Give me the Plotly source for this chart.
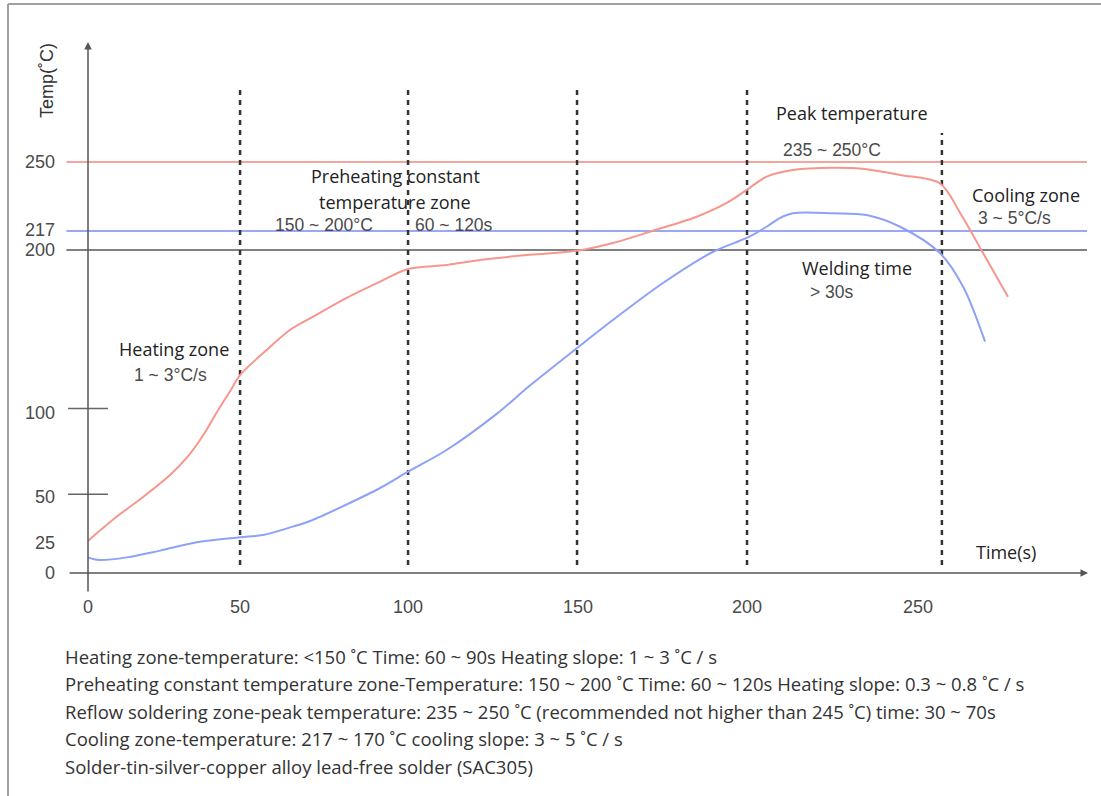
import plotly.graph_objects as go

# ---- data (time axis / temperature axis in the diagram's drawn scale) ----
red_t = [0, 3.6, 8.6, 16.7, 24.7, 29.7, 34.6, 38.8, 42.8, 45.8, 53.8, 60.8, 67.8, 77.9, 88.0,
         96.4, 108.0, 118.1, 133.1, 147.2, 158.1, 170.2, 183.3, 192.4, 198.4, 204.4, 212.3,
         224.4, 234.5, 244.6, 256.6, 262.7, 269.6, 277.1]
red_temp = [19.5, 25.8, 34.2, 46.4, 59.6, 70.0, 83.5, 97.8, 110.6, 120.4, 135.6, 147.8, 155.9,
            167.3, 177.2, 184.9, 187.3, 190.4, 193.6, 196.0, 200.7, 208.2, 216.7, 225.1, 233.0,
            241.1, 245.1, 246.5, 245.6, 242.1, 237.0, 219.0, 194.6, 168.1]

blue_t = [0, 1.5, 3.6, 11.7, 21.7, 33.7, 45.8, 52.7, 61.7, 66.9, 77.4, 88.0, 96.4, 108.0, 123.1,
          133.1, 147.2, 158.1, 173.2, 188.3, 198.4, 204.4, 208.4, 212.3, 224.4, 234.5, 244.6,
          256.6, 263.6, 270.2]
blue_temp = [9.5, 8.5, 7.9, 9.5, 13.6, 19.0, 21.7, 23.1, 28.2, 31.6, 41.2, 51.7, 61.6, 74.8, 96.8,
             114.0, 136.7, 153.9, 176.4, 195.4, 203.8, 210.6, 215.9, 218.8, 218.8, 217.8, 210.6,
             194.6, 174.1, 140.7]

# reference temperature lines: 250, 217, 200
ref_levels = [250.0, 208.0, 196.5]
ref_colors = ["#f6a59c", "#98a8f6", "#808080"]

# zone boundaries (dashed) and their tops
zone_t = [45.8, 96.4, 147.3, 198.5, 257.2]
zone_top = [293.8, 293.8, 293.8, 293.8, 267.6]
zone_bottom = 4.9

# axis tick labels
x_tick_pos = [0, 45.8, 96.4, 147.6, 198.5, 250]
x_tick_text = ["0", "50", "100", "150", "200", "250"]
y_tick_pos = [0.2, 18.2, 46.4, 97.3, 196.7, 208.8, 250]
y_tick_text = ["0", "25", "50", "100", "200", "217", "250"]
y_tick_marks = [47.9, 100.1]

zone_labels = [
    ("Heating zone", 25.8, 136.3, "main"),
    ("1 ~ 3°C/s", 24.7, 120.4, "num"),
    ("Preheating constant", 92.5, 241.5, "main"),
    ("temperature zone", 92.5, 225.9, "main"),
    ("150 ~ 200°C", 71.0, 211.7, "num"),
    ("60 ~ 120s", 110.3, 211.7, "num"),
    ("Peak temperature", 230.0, 279.8, "main"),
    ("235 ~ 250°C", 224.0, 257.3, "num"),
    ("Cooling zone", 282.5, 229.9, "main"),
    ("3 ~ 5°C/s", 279.1, 215.9, "num"),
    ("Welding time", 231.5, 185.5, "main"),
    ("> 30s", 224.0, 171.1, "num"),
]

notes = [
    "Heating zone-temperature: <150 ˚C Time: 60 ~ 90s Heating slope: 1 ~ 3 ˚C / s",
    "Preheating constant temperature zone-Temperature: 150 ~ 200 ˚C Time: 60 ~ 120s Heating slope: 0.3 ~ 0.8 ˚C / s",
    "Reflow soldering zone-peak temperature: 235 ~ 250 ˚C (recommended not higher than 245 ˚C) time: 30 ~ 70s",
    "Cooling zone-temperature: 217 ~ 170 ˚C cooling slope: 3 ~ 5 ˚C / s",
    "Solder-tin-silver-copper alloy lead-free solder (SAC305)",
]

# ---- layout geometry ----
W, H = 1101, 796
ML, MR, MT, MB = 40, 6, 30, 176
PX0, PX1, PY0, PY1 = ML, W - MR, MT, H - MB
XR = [-14.458, 303.313]
YR = [-28.589, 330.292]

def px(p):
    return (p - PX0) / (PX1 - PX0)

def py(p):
    return (PY1 - p) / (PY1 - PY0)

MAIN_FONT = dict(family="Open Sans", size=18, color="#222222")
NUM_FONT = dict(family="Liberation Sans", size=17.5, color="#4a4a4a")
TICK_FONT = dict(family="Liberation Sans", size=18, color="#4a4a4a")

fig = go.Figure()

# reference horizontal lines
for lvl, col in zip(ref_levels, ref_colors):
    fig.add_trace(go.Scatter(x=[-6.5, 300.9], y=[lvl, lvl], mode="lines",
                             line=dict(color=col, width=2), hoverinfo="skip"))

# dashed zone boundaries
for t, top in zip(zone_t, zone_top):
    fig.add_trace(go.Scatter(x=[t, t], y=[zone_bottom, top], mode="lines",
                             line=dict(color="#333333", width=2.5, dash="5px,5px"),
                             hoverinfo="skip"))

# y tick marks
for m in y_tick_marks:
    fig.add_trace(go.Scatter(x=[-6.0, 6.0], y=[m, m], mode="lines",
                             line=dict(color="#666666", width=1.5), hoverinfo="skip"))

# profiles
fig.add_trace(go.Scatter(x=red_t, y=red_temp, mode="lines",
                         line=dict(color="#f7968c", width=2, shape="spline", smoothing=0.9),
                         hoverinfo="skip"))
fig.add_trace(go.Scatter(x=blue_t, y=blue_temp, mode="lines",
                         line=dict(color="#8da2f7", width=2, shape="spline", smoothing=0.9),
                         hoverinfo="skip"))

ann = []
# axes with arrows
ann.append(dict(x=0, y=323, ax=0, ay=-12.2, xref="x", yref="y", axref="x", ayref="y",
                text="", showarrow=True, arrowhead=2, arrowsize=1, arrowwidth=1.5,
                arrowcolor="#555555"))
ann.append(dict(x=301.2, y=0, ax=-6.0, ay=0, xref="x", yref="y", axref="x", ayref="y",
                text="", showarrow=True, arrowhead=2, arrowsize=1, arrowwidth=1.5,
                arrowcolor="#555555"))

for v, t in zip(x_tick_pos, x_tick_text):
    ann.append(dict(x=v, y=-20.7, xref="x", yref="y", text=t, showarrow=False,
                    font=TICK_FONT, xanchor="center", yanchor="middle"))
for v, t in zip(y_tick_pos, y_tick_text):
    ann.append(dict(x=-9.34, y=v, xref="x", yref="y", text=t, showarrow=False,
                    font=TICK_FONT, xanchor="right", yanchor="middle"))

for text, x, y, kind in zone_labels:
    ann.append(dict(x=x, y=y, xref="x", yref="y", text=text, showarrow=False,
                    font=MAIN_FONT if kind == "main" else NUM_FONT,
                    xanchor="center", yanchor="middle"))

ann.append(dict(x=-12.3, y=299.3, xref="x", yref="y", text="Temp(˚C)", showarrow=False,
                textangle=-90, font=dict(family="Liberation Sans", size=18, color="#333333"),
                xanchor="center", yanchor="middle"))
ann.append(dict(x=276.5, y=12.8, xref="x", yref="y", text="Time(s)", showarrow=False,
                font=MAIN_FONT, xanchor="center", yanchor="middle"))

note_y = [656.7, 683.5, 711, 738.5, 766]
for txt, yy in zip(notes, note_y):
    ann.append(dict(x=px(63), y=py(yy), xref="paper", yref="paper", text=txt, showarrow=False,
                    font=dict(family="Open Sans", size=18.5, color="#333333"),
                    xanchor="left", yanchor="middle"))

shapes = [
    dict(type="line", xref="paper", yref="paper", x0=px(8), x1=px(1101), y0=py(4), y1=py(4),
         line=dict(color="#a0a0a0", width=2)),
    dict(type="line", xref="paper", yref="paper", x0=px(8), x1=px(8), y0=py(4), y1=py(796),
         line=dict(color="#a0a0a0", width=2)),
]

fig.update_layout(
    width=W, height=H, autosize=False,
    margin=dict(l=ML, r=MR, t=MT, b=MB, pad=0),
    paper_bgcolor="white", plot_bgcolor="white",
    showlegend=False,
    xaxis=dict(range=XR, visible=False, fixedrange=True),
    yaxis=dict(range=YR, visible=False, fixedrange=True),
    annotations=ann, shapes=shapes,
)

fig.write_html("out.html", config={"displayModeBar": False},
               post_script="document.body.style.margin='0';document.body.style.overflow='hidden';")
